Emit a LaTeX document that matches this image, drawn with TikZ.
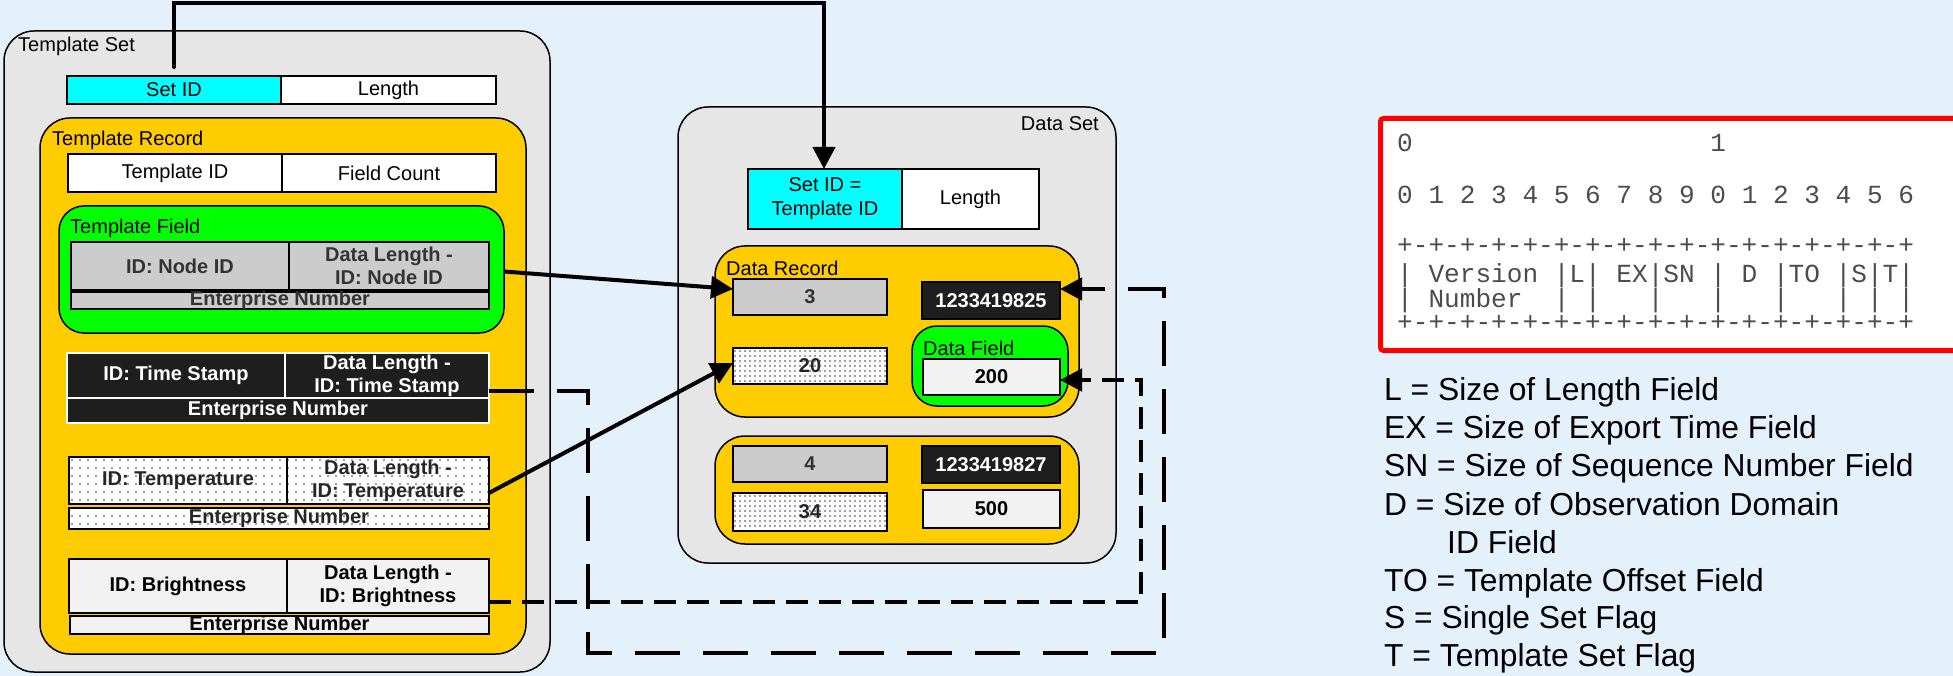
\documentclass[tikz,border=0pt]{standalone}
\usepackage{fontspec}
\setmainfont{Liberation Sans}
\newfontfamily\monof{Liberation Mono}
\usetikzlibrary{arrows.meta,patterns.meta}
\definecolor{bgc}{RGB}{228,240,250}
\definecolor{setgray}{RGB}{230,230,230}
\definecolor{recorange}{RGB}{255,204,0}
\definecolor{fldgreen}{RGB}{0,255,0}
\definecolor{idcyan}{RGB}{0,255,255}
\definecolor{valgray}{RGB}{204,204,204}
\definecolor{valdark}{RGB}{30,30,30}
\definecolor{vallight}{RGB}{242,242,242}
\begin{document}
\begin{tikzpicture}[x=1pt,y=-1pt,
  wh/.style 2 args={minimum width=#1, minimum height=#2},
  box/.style={draw=black, line width=1.5pt, inner sep=0pt, outer sep=0pt, anchor=north west, align=center, font=\fontsize{20}{23}\selectfont\bfseries},
  plain/.style={box, font=\fontsize{20}{24}\selectfont},
  numbox/.style={box, font=\fontsize{20}{22}\selectfont\bfseries},
  container/.style={draw=black, line width=1.5pt, inner sep=0pt, outer sep=0pt, anchor=north west, rounded corners=30pt},
  lbl/.style={anchor=west, inner sep=0pt, font=\fontsize{20}{22}\selectfont},
  gbox/.style={fill=valgray, text=black!80},
  dbox/.style={fill=valdark, text=white},
  pbox/.style={preaction={fill=white}, pattern={Dots[distance=8pt,radius=0.9pt]}, pattern color=black!75, text=black!85},
  pboxs/.style={preaction={fill=white}, pattern={Dots[distance=5pt,radius=0.8pt]}, pattern color=black!75, text=black!85},
  lbox/.style={fill=vallight},
  ent/.style={text height=12pt, text depth=2pt},
  mono/.style={anchor=base west, inner sep=0pt, font=\monof\fontsize{26.1}{28}\selectfont, text=black!70},
  legend/.style={anchor=base west, inner sep=0pt, font=\fontsize{31.8}{33}\selectfont},
  conn/.style={line width=4pt, -{Triangle[length=22pt,width=22pt]}},
  dashA/.style={line width=4.5pt, dash pattern=on 45pt off 23pt, -{Triangle[length=22pt,width=22pt]}},
  dashB/.style={line width=4.5pt, dash pattern=on 22pt off 11pt, -{Triangle[length=22pt,width=22pt]}}
]
\fill[bgc] (0,0) rectangle (1953,676);
\useasboundingbox (0,0) rectangle (1953,676);

% Template Set
\node[container, fill=setgray, wh={546pt}{641pt}] (tset) at (4,31) {};
\node[lbl] (tsetl) at (18,46) {Template Set};
\node[plain, fill=idcyan, wh={214pt}{28pt}] (setid) at (67,76) {Set ID};
\node[plain, fill=white, wh={215pt}{28pt}] (setlen) at (281,76) {Length};

\node[container, fill=recorange, wh={486pt}{536pt}] (trec) at (40,118) {};
\node[lbl] (trecl) at (52,140) {Template Record};
\node[plain, fill=white, wh={214pt}{38pt}] (tid) at (68,154) {Template ID};
\node[plain, fill=white, wh={214pt}{38pt}] (fcount) at (282,154) {Field Count};

\node[container, rounded corners=25pt, fill=fldgreen, wh={445pt}{127pt}] (tfield) at (59,206) {};
\node[lbl] (tfieldl) at (70,228) {Template Field};
\node[box, gbox, wh={218pt}{48pt}] (nid) at (71,242) {ID: Node ID};
\node[box, gbox, wh={200pt}{48pt}] (ndl) at (289,242) {Data Length -\\ID: Node ID};
\node[box, gbox, ent, wh={418pt}{17pt}] (nen) at (71,292) {Enterprise Number};

\node[box, dbox, draw=white, wh={218pt}{45pt}] (ts) at (67,353) {ID: Time Stamp};
\node[box, dbox, draw=white, wh={204pt}{45pt}] (tsdl) at (285,353) {Data Length -\\ID: Time Stamp};
\node[box, dbox, draw=white, ent, wh={422pt}{25pt}] (tsen) at (67,398) {Enterprise Number};

\node[box, pbox, wh={218pt}{47pt}] (tp) at (69,457) {ID: Temperature};
\node[box, pbox, wh={202pt}{47pt}] (tpdl) at (287,457) {Data Length -\\ID: Temperature};
\node[box, pbox, ent, wh={420pt}{21pt}] (tpen) at (69,508) {Enterprise Number};

\node[box, lbox, wh={218pt}{54pt}] (br) at (69,559) {ID: Brightness};
\node[box, lbox, wh={202pt}{54pt}] (brdl) at (287,559) {Data Length -\\ID: Brightness};
\node[box, lbox, ent, wh={419pt}{18pt}] (bren) at (70,616) {Enterprise Number};

% Data Set
\node[container, fill=setgray, wh={438pt}{456pt}] (dset) at (678,107) {};
\node[lbl, anchor=east] (dsetl) at (1099,124) {Data Set};
\node[plain, fill=idcyan, wh={154pt}{60pt}] (dsid) at (748,169) {Set ID =\\Template ID};
\node[plain, fill=white, wh={137pt}{60pt}] (dslen) at (902,169) {Length};

\node[container, fill=recorange, wh={364pt}{171pt}] (drec1) at (715,246) {};
\node[lbl] (drec1l) at (726,268) {Data Record};
\node[numbox, gbox, wh={154pt}{36pt}] (v3) at (733,279) {3};
\node[numbox, dbox, wh={138pt}{37pt}] (v1825) at (922,282) {1233419825};
\node[numbox, pboxs, wh={154pt}{36pt}] (v20) at (733,348) {20};
\node[container, rounded corners=25pt, fill=fldgreen, wh={156pt}{80pt}] (dfield) at (912,326) {};
\node[lbl] (dfieldl) at (923,348) {Data Field};
\node[numbox, lbox, wh={137pt}{36pt}] (v200) at (923,359) {200};

\node[container, fill=recorange, wh={364pt}{108pt}] (drec2) at (715,436) {};
\node[numbox, gbox, wh={154pt}{36pt}] (v4) at (733,446) {4};
\node[numbox, dbox, wh={138pt}{37pt}] (v1827) at (922,446) {1233419827};
\node[numbox, pboxs, wh={154pt}{38pt}] (v34) at (733,493) {34};
\node[numbox, lbox, wh={137pt}{38pt}] (v500) at (923,490) {500};

% Header box
\node[draw=red, line width=5pt, fill=white, rounded corners=3pt, anchor=north west, inner sep=0pt, wh={600pt}{232pt}] (redbox) at (1378,116) {};
\node[mono] (m1) at (1397,152) {0~~~~~~~~~~~~~~~~~~~1};
\node[mono] (m2) at (1397,204) {0~1~2~3~4~5~6~7~8~9~0~1~2~3~4~5~6};
\node[mono] (m3) at (1397,254) {+-+-+-+-+-+-+-+-+-+-+-+-+-+-+-+-+};
\node[mono] (m4) at (1397,282) {|~Version~|L|~EX|SN~|~D~|TO~|S|T|};
\node[mono] (m5) at (1397,307) {|~Number~~|~|~~~|~~~|~~~|~~~|~|~|};
\node[mono] (m6) at (1397,330) {+-+-+-+-+-+-+-+-+-+-+-+-+-+-+-+-+};

% Legend
\node[legend] (l1) at (1384,400) {L = Size of Length Field};
\node[legend] (l2) at (1384,438) {EX = Size of Export Time Field};
\node[legend] (l3) at (1384,476) {SN = Size of Sequence Number Field};
\node[legend] (l4) at (1384,515) {D = Size of Observation Domain};
\node[legend] (l5) at (1447,553) {ID Field};
\node[legend] (l6) at (1384,591) {TO = Template Offset Field};
\node[legend] (l7) at (1384,628) {S = Single Set Flag};
\node[legend] (l8) at (1384,666) {T = Template Set Flag};

% Connectors
\coordinate (topc) at (824,3);
\draw[conn, line cap=round] ([yshift=9pt]setid.north) |- (topc) -- ([xshift=-1pt]dsid.north);
\draw[conn] ([yshift=-2pt]tfield.east) -- ([yshift=8pt]v3.west);
\draw[conn] ([yshift=-12.5pt]tpdl.east) -- ([yshift=3pt]v20.west);
\coordinate (dA) at (588,653);
\coordinate (dB) at (1164,289);
\draw[dashA] ([yshift=-15.5pt]tsdl.east) -| (dA) -| (dB) -- ([yshift=11.5pt]v1825.east);
\coordinate (dC) at (1141,380);
\draw[dashB] ([yshift=-16pt]brdl.east) -| (dC) -- ([yshift=-3pt]v200.east);
\end{tikzpicture}
\end{document}
